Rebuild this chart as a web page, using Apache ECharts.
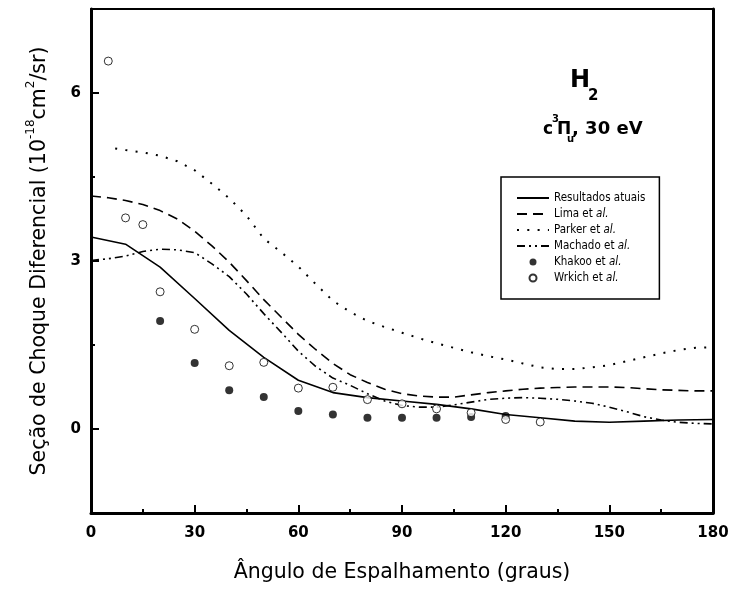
<!DOCTYPE html>
<html>
<head>
<meta charset="utf-8">
<script src="https://cdn.jsdelivr.net/npm/echarts@6/dist/echarts.min.js"></script>
<style>
html, body { margin: 0; padding: 0; background: #fff; }
#chart { width: 738px; height: 589px; }
</style>
</head>
<body>
<div id="chart"></div>
<script>
// angulos (graus)
const angResult = [0, 10, 20, 30, 40, 50, 60, 70, 80, 90, 100, 110, 120, 130, 140, 150, 160, 170, 180];
const resultados = [3.43, 3.30, 2.89, 2.33, 1.76, 1.28, 0.87, 0.65, 0.56, 0.50, 0.44, 0.36, 0.26, 0.20, 0.14, 0.12, 0.14, 0.16, 0.17];

const ang5 = [0, 5, 10, 15, 20, 25, 30, 35, 40, 45, 50, 55, 60, 65, 70, 75, 80, 85, 90,
  95, 100, 105, 110, 115, 120, 125, 130, 135, 140, 145, 150, 155, 160, 165, 170, 175, 180];
const lima = [4.16, 4.13, 4.08, 4.01, 3.90, 3.75, 3.53, 3.27, 2.98, 2.65, 2.31, 2.00, 1.69, 1.42, 1.17, 0.97, 0.83, 0.71, 0.63,
  0.59, 0.57, 0.57, 0.61, 0.65, 0.68, 0.71, 0.73, 0.74, 0.75, 0.75, 0.75, 0.74, 0.72, 0.70, 0.69, 0.68, 0.68];
const machado = [3.01, 3.04, 3.09, 3.17, 3.21, 3.20, 3.15, 2.95, 2.72, 2.41, 2.06, 1.73, 1.39, 1.12, 0.91, 0.78, 0.63, 0.50, 0.42,
  0.39, 0.39, 0.43, 0.48, 0.53, 0.55, 0.56, 0.55, 0.53, 0.50, 0.46, 0.39, 0.31, 0.22, 0.16, 0.12, 0.10, 0.09];

const angParker = [7, 10, 15, 20, 25, 30, 35, 40, 45, 50, 55, 60, 65, 70, 75, 80, 85, 90,
  95, 100, 105, 110, 115, 120, 125, 130, 135, 140, 145, 150, 155, 160, 165, 170, 175, 180];
const parker = [5.01, 4.98, 4.94, 4.88, 4.78, 4.62, 4.38, 4.12, 3.81, 3.40, 3.16, 2.90, 2.59, 2.29, 2.09, 1.93, 1.82, 1.72,
  1.62, 1.53, 1.45, 1.37, 1.30, 1.24, 1.17, 1.10, 1.07, 1.07, 1.10, 1.14, 1.21, 1.28, 1.35, 1.41, 1.45, 1.46];

const angKhakoo = [20, 30, 40, 50, 60, 70, 80, 90, 100, 110, 120];
const khakoo = [1.93, 1.18, 0.69, 0.57, 0.32, 0.26, 0.20, 0.20, 0.20, 0.215, 0.23];

const angWrkich = [5, 10, 15, 20, 30, 40, 50, 60, 70, 80, 90, 100, 110, 120, 130];
const wrkich = [6.57, 3.77, 3.65, 2.45, 1.78, 1.13, 1.19, 0.73, 0.745, 0.525, 0.45, 0.36, 0.29, 0.17, 0.125];

const yLabels = [0, 3, 6];

function pares(xs, ys) {
  return xs.map((x, i) => [x, ys[i]]);
}

const fonte = "'DejaVu Sans', sans-serif";
const fonteLeg = "'DejaVu Sans Condensed', 'DejaVu Sans', sans-serif";

let myChart = echarts.init(document.getElementById("chart"));

let linha = function (name, xs, ys, type, width) {
  return {
    name: name,
    type: "line",
    data: pares(xs, ys),
    symbol: "none",
    showSymbol: false,
    xAxisIndex: 0,
    yAxisIndex: 0,
    lineStyle: { color: "#000", width: width, type: type, cap: "butt" },
    // simbolo do legend invisivel, so a linha
    itemStyle: { color: "rgba(0,0,0,0)", opacity: 0 },
    z: 2
  };
};

let semSimbolo = { color: "rgba(0,0,0,0)", borderWidth: 0, opacity: 0 };

let option = {
  animation: false,
  backgroundColor: "#fff",
  grid: { left: 91, right: 25, top: 9, bottom: 76, containLabel: false },
  legend: {
    orient: "vertical",
    left: 501,
    top: 177,
    padding: [14, 14, 14, 15],
    itemWidth: 32,
    itemHeight: 7,
    itemGap: 2,
    borderColor: "#000",
    borderWidth: 1.5,
    backgroundColor: "#fff",
    data: [
      { name: "Resultados atuais", itemStyle: semSimbolo },
      { name: "Lima et al.", itemStyle: semSimbolo },
      { name: "Parker et al.", itemStyle: semSimbolo },
      { name: "Machado et al.", itemStyle: semSimbolo },
      { name: "Khakoo et al." },
      { name: "Wrkich et al." }
    ],
    formatter: function (name) {
      return name.replace(" et al.", " et {i|al.}");
    },
    textStyle: {
      fontFamily: fonteLeg,
      fontSize: 11.5,
      lineHeight: 14,
      color: "#000",
      rich: {
        i: { fontFamily: fonteLeg, fontSize: 11.5, lineHeight: 14, fontStyle: "italic", color: "#000" }
      }
    }
  },
  graphic: [
    {
      type: "text",
      style: { text: "H", x: 570, y: 81, fill: "#000", font: "bold 24px 'DejaVu Sans'", verticalAlign: "middle" }
    },
    {
      type: "text",
      style: { text: "2", x: 588, y: 96, fill: "#000", font: "bold 15px 'DejaVu Sans'", verticalAlign: "middle" }
    },
    {
      type: "text",
      style: {
        text: "{c|c}{p|3}{P|Π}{u|u}{m|, 30 eV}",
        x: 543,
        y: 129.5,
        verticalAlign: "middle",
        rich: {
          c: { fontFamily: fonte, fontWeight: "bold", fontSize: 17, lineHeight: 30, width: 9, fill: "#000" },
          P: { fontFamily: fonte, fontWeight: "bold", fontSize: 17, lineHeight: 30, width: 10, fill: "#000" },
          m: { fontFamily: fonte, fontWeight: "bold", fontSize: 18, lineHeight: 30, fill: "#000" },
          p: { fontFamily: fonte, fontWeight: "bold", fontSize: 10, lineHeight: 14, width: 5, verticalAlign: "top", fill: "#000" },
          u: { fontFamily: fonte, fontWeight: "bold", fontSize: 10, lineHeight: 12, width: 5, verticalAlign: "bottom", fill: "#000" }
        }
      }
    }
  ],
  xAxis: [
    {
      type: "value",
      min: 0,
      max: 180,
      interval: 30,
      position: "bottom",
      name: "Ângulo de Espalhamento (graus)",
      nameLocation: "middle",
      nameGap: 49,
      nameTextStyle: { fontFamily: fonte, fontSize: 20.5, color: "#000" },
      axisLine: { onZero: false, lineStyle: { color: "#000", width: 3 } },
      axisTick: { inside: true, length: 8, lineStyle: { color: "#000", width: 2 } },
      minorTick: { show: true, splitNumber: 2, length: 4, lineStyle: { color: "#000", width: 2 } },
      axisLabel: { fontFamily: fonte, fontWeight: "bold", fontSize: 15, color: "#000", margin: 13 },
      splitLine: { show: false }
    },
    {
      type: "value",
      min: 0,
      max: 180,
      position: "top",
      axisLine: { onZero: false, lineStyle: { color: "#000", width: 2 } },
      axisTick: { show: false },
      axisLabel: { show: false },
      splitLine: { show: false }
    }
  ],
  yAxis: [
    {
      type: "value",
      min: -1.5,
      max: 7.5,
      interval: 1.5,
      position: "left",
      name: "{n|Seção de Choque Diferencial (10}{s|-18}{n|cm}{s|2}{n|/sr)}",
      nameLocation: "middle",
      nameRotate: 90,
      nameGap: 36,
      nameTextStyle: {
        color: "#000",
        rich: {
          n: { fontFamily: fonte, fontSize: 20.5, lineHeight: 30, color: "#000" },
          s: { fontFamily: fonte, fontSize: 12, lineHeight: 20, verticalAlign: "top", color: "#000" }
        }
      },
      axisLine: { onZero: false, lineStyle: { color: "#000", width: 3 } },
      axisTick: { inside: true, length: 4, lineStyle: { color: "#000", width: 2 } },
      axisLabel: {
        customValues: yLabels,
        fontFamily: fonte,
        fontWeight: "bold",
        fontSize: 15,
        color: "#000",
        margin: 10
      },
      splitLine: { show: false }
    },
    {
      type: "value",
      min: -1.5,
      max: 7.5,
      position: "left",
      axisLine: { show: false, onZero: false },
      axisTick: { inside: true, length: 8, customValues: yLabels, lineStyle: { color: "#000", width: 2 } },
      axisLabel: { show: false },
      splitLine: { show: false }
    },
    {
      type: "value",
      min: -1.5,
      max: 7.5,
      position: "right",
      axisLine: { onZero: false, lineStyle: { color: "#000", width: 3 } },
      axisTick: { show: false },
      axisLabel: { show: false },
      splitLine: { show: false }
    }
  ],
  series: [
    linha("Resultados atuais", angResult, resultados, "solid", 1.6),
    linha("Lima et al.", ang5, lima, [10, 6], 1.6),
    linha("Parker et al.", angParker, parker, [2, 8.3], 2),
    linha("Machado et al.", ang5, machado, [8, 4, 2, 4, 2, 4], 1.6),
    {
      name: "Khakoo et al.",
      type: "scatter",
      data: pares(angKhakoo, khakoo),
      symbol: "circle",
      symbolSize: 8,
      itemStyle: { color: "#000" },
      z: 3
    },
    {
      name: "Wrkich et al.",
      type: "scatter",
      data: pares(angWrkich, wrkich),
      symbol: "circle",
      symbolSize: 8,
      itemStyle: { color: "#fff", borderColor: "#000", borderWidth: 1 },
      z: 4
    }
  ]
};

myChart.setOption(option);
window.addEventListener("resize", () => {
  myChart.resize();
});
</script>
</body>
</html>
